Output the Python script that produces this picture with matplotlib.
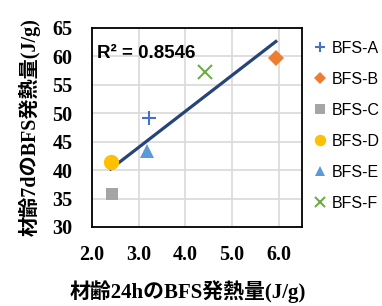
import numpy as np
import matplotlib
matplotlib.use('Agg')
import matplotlib.pyplot as plt

# Data
names = ['BFS-A', 'BFS-B', 'BFS-C', 'BFS-D', 'BFS-E', 'BFS-F']
heat_24h = [3.23, 5.94, 2.43, 2.40, 3.18, 4.43]
heat_7d = [49.2, 59.8, 35.8, 41.5, 43.4, 57.2]
r2_text = 'R² = 0.8546'

markers = ['+', 'D', 's', 'o', '^', 'x']
colors = ['#4472C4', '#ED7D31', '#A5A5A5', '#FFC000', '#5B9BD5', '#70AD47']
sizes = [10, 8, 9, 11, 10, 10]

label_font = ['Liberation Serif', 'Noto Sans CJK JP']

fig = plt.figure(figsize=(3.82, 3.06), dpi=100)
ax = fig.add_axes([92 / 382, 1 - 227 / 306, 210 / 382, 199 / 306])

for n, x, y, m, c, s in zip(names, heat_24h, heat_7d, markers, colors, sizes):
    ax.plot(x, y, linestyle='none', marker=m, color=c, markersize=s,
            markeredgewidth=1.5 if m in '+x' else 0, label=n, zorder=3)

# Linear trendline
coef = np.polyfit(heat_24h, heat_7d, 1)
xs = np.array([min(heat_24h), max(heat_24h)])
ax.plot(xs, np.polyval(coef, xs), color='#264478', linewidth=2.3, zorder=2)

ax.text(2.1, 60.6, r2_text, fontsize=13.5, fontweight='bold',
        family='Liberation Sans', va='center', ha='left')

ax.set_xlim(2.0, 6.5)
ax.set_ylim(30, 65)
ax.set_xticks([2, 3, 4, 5, 6])
ax.set_yticks(range(30, 66, 5))
ax.set_xticklabels([f'{v:.1f}' for v in [2, 3, 4, 5, 6]])
ax.grid(True, color='#d9d9d9', linewidth=1.2)
ax.set_axisbelow(True)
ax.tick_params(length=0, labelsize=14.5)
ax.tick_params(axis='y', pad=14)
ax.tick_params(axis='x', pad=13)
for lab in ax.get_xticklabels() + ax.get_yticklabels():
    lab.set_fontfamily('Liberation Serif')
    lab.set_fontweight('bold')
for sp in ax.spines.values():
    sp.set_linewidth(1.3)
    sp.set_color('black')

ax.set_xlabel('材齢24hのBFS発熱量(J/g)', family=label_font, fontweight='bold',
              fontsize=15, labelpad=10)
ax.xaxis.set_label_coords((188 - 92) / 210, -0.27)
ax.set_ylabel('材齢7dのBFS発熱量(J/g)', family=label_font, fontweight='bold',
              fontsize=14.5, labelpad=8)

fig.legend(loc='upper left', bbox_to_anchor=(314 / 382, 1 - 41 / 306),
           frameon=False, prop={'family': 'Liberation Sans', 'size': 11.5},
           markerscale=0.75, handlelength=0.7, handletextpad=0.4,
           labelspacing=1.0, borderaxespad=0, borderpad=0)

fig.savefig('out.png', dpi=100)
plt.close(fig)
